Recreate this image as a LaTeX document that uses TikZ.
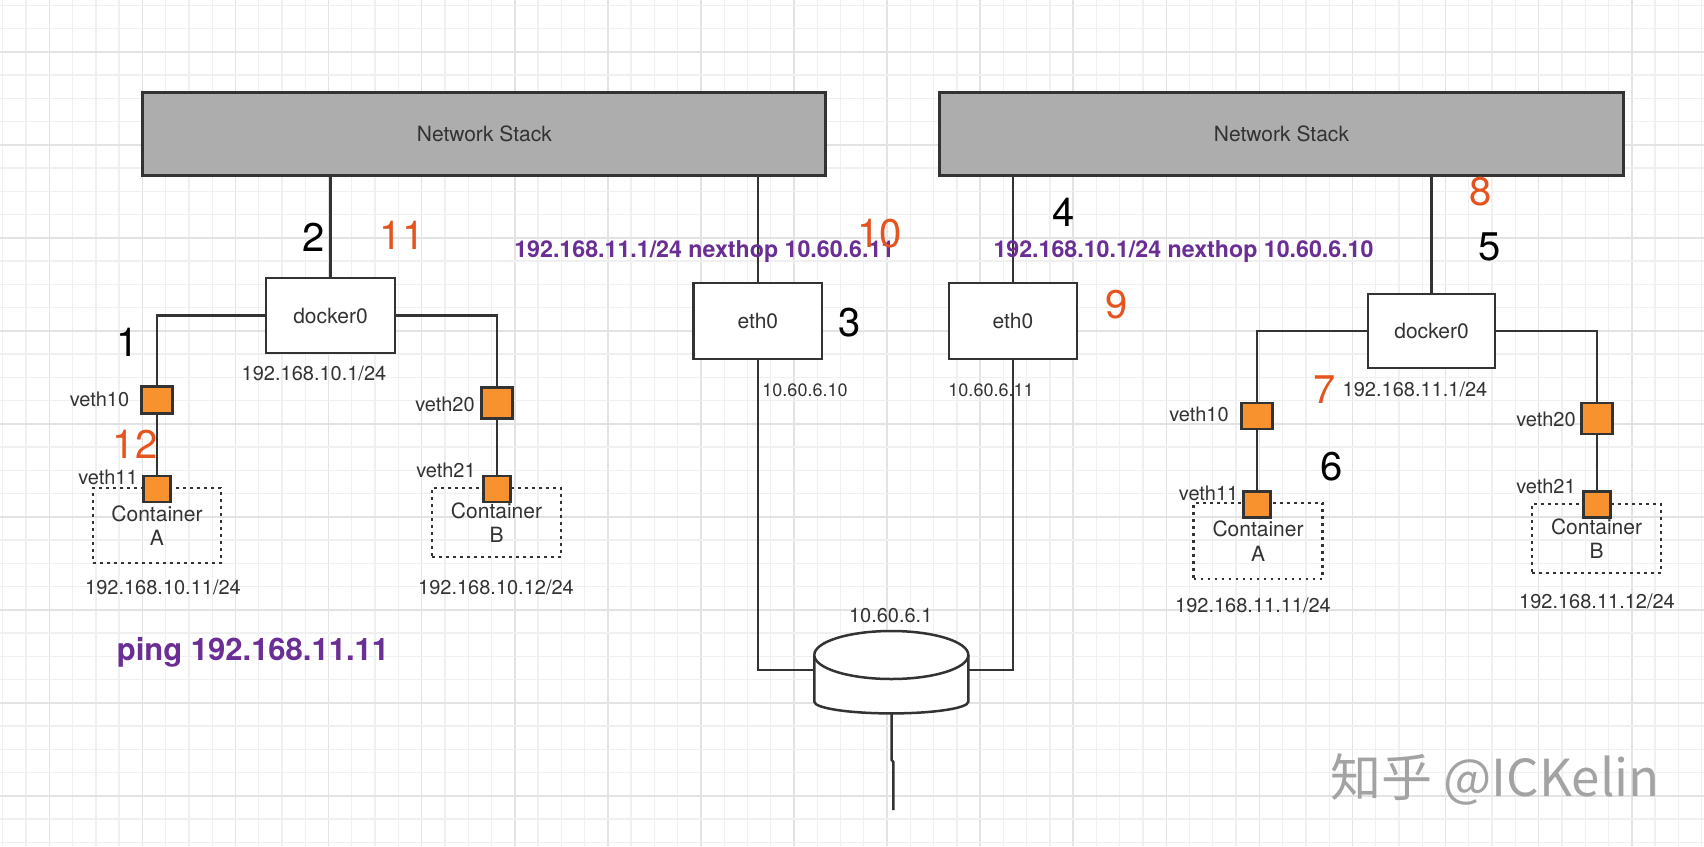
\documentclass[tikz,border=0pt]{standalone}
\usepackage{fontspec}
\setmainfont{TeX Gyre Heros}
\newfontfamily\cjk{Noto Sans CJK SC}
\usetikzlibrary{calc}
\definecolor{txt}{HTML}{333333}
\definecolor{stackfill}{HTML}{ADADAD}
\definecolor{vethfill}{HTML}{F7922F}
\definecolor{numorg}{HTML}{E5541F}
\definecolor{routepurple}{HTML}{6A2E94}
\definecolor{gridminor}{HTML}{F0F0F0}
\definecolor{gridmajor}{HTML}{E3E3E3}
\definecolor{linecol}{HTML}{333333}
\definecolor{wm}{HTML}{A3A3A3}
\tikzset{
  gridmin/.style={draw=gridminor, line width=1.3pt},
  gridmaj/.style={draw=gridmajor, line width=1.6pt},
  stackbox/.style={draw=linecol, fill=stackfill, line width=3pt, inner sep=0pt, text=txt, font=\fontsize{21}{25}\selectfont},
  ifbox/.style={draw=linecol, fill=white, line width=2.6pt, inner sep=0pt, text=txt, font=\fontsize{21}{25}\selectfont},
  vethsq/.style={draw=linecol, fill=vethfill, line width=2.6pt, inner sep=0pt},
  ctbox/.style={draw=linecol, line width=2.6pt, dash pattern=on 2.6pt off 4.4pt, inner sep=0pt, text=txt, align=center, font=\fontsize{21}{24.3}\selectfont},
  conn/.style={draw=linecol, line width=2.5pt},
  lbl/.style={text=txt, inner sep=0pt, anchor=base, font=\fontsize{20}{24}\selectfont},
  ipsmall/.style={text=txt, inner sep=0pt, anchor=base, font=\fontsize{18}{22}\selectfont},
  numblack/.style={text=black, inner sep=0pt, anchor=base, font=\fontsize{40}{48}\selectfont},
  numorange/.style={text=numorg, inner sep=0pt, anchor=base, font=\fontsize{40}{48}\selectfont},
  routetext/.style={text=routepurple, inner sep=0pt, anchor=base, font=\bfseries\fontsize{23.2}{28}\selectfont},
  pingtext/.style={text=routepurple, inner sep=0pt, anchor=base, font=\bfseries\fontsize{31}{37}\selectfont},
}
\begin{document}
\begin{tikzpicture}[x=1pt,y=-1pt]
\useasboundingbox (0,0) rectangle (1704,846);
\fill[white] (0,0) rectangle (1704,846);
% grid
\foreach \j in {-2,...,71} {
  \pgfmathtruncatemacro{\m}{mod(\j+8,4)}
  \ifnum\m=0
    \draw[gridmaj] ({49.33+23.27*\j},0) -- ({49.33+23.27*\j},846);
  \else
    \draw[gridmin] ({49.33+23.27*\j},0) -- ({49.33+23.27*\j},846);
  \fi
}
\foreach \j in {-2,...,34} {
  \pgfmathtruncatemacro{\m}{mod(\j+8,4)}
  \ifnum\m=0
    \draw[gridmaj] (0,{51.7+23.25*\j}) -- (1704,{51.7+23.25*\j});
  \else
    \draw[gridmin] (0,{51.7+23.25*\j}) -- (1704,{51.7+23.25*\j});
  \fi
}

% network stacks
\node[stackbox, minimum width=683pt, minimum height=83pt] (nsL) at (484.4,134.3) {Network Stack};
\node[stackbox, minimum width=684pt, minimum height=83pt] (nsR) at (1281.5,134.3) {Network Stack};

% interface boxes
\node[ifbox, minimum width=129pt, minimum height=75pt] (dL) at (330.5,315.5) {docker0};
\node[ifbox, minimum width=127pt, minimum height=74pt] (dR) at (1431.5,331) {docker0};
\node[ifbox, minimum width=128.5pt, minimum height=76pt] (eL) at (757.8,321) {eth0};
\node[ifbox, minimum width=128pt, minimum height=76pt] (eR) at (1013,321) {eth0};

% containers
\node[ctbox, minimum width=128pt, minimum height=75pt] (cAL) at (157,525.5) {Container\\A};
\node[ctbox, minimum width=129pt, minimum height=69pt] (cBL) at (496.5,522.5) {Container\\B};
\node[ctbox, minimum width=129pt, minimum height=76pt] (cAR) at (1258,541) {Container\\A};
\node[ctbox, minimum width=129pt, minimum height=69pt] (cBR) at (1596.5,538.5) {Container\\B};

% veth squares
\node[vethsq, minimum width=31pt, minimum height=27pt] (v10L) at (157,400) {};
\node[vethsq, minimum width=27pt, minimum height=26pt] (v11L) at (157,489) {};
\node[vethsq, minimum width=31pt, minimum height=31pt] (v20L) at (497,403) {};
\node[vethsq, minimum width=27pt, minimum height=26pt] (v21L) at (497,489) {};
\node[vethsq, minimum width=31pt, minimum height=26pt] (v10R) at (1257,416) {};
\node[vethsq, minimum width=27pt, minimum height=26pt] (v11R) at (1257,504.5) {};
\node[vethsq, minimum width=31pt, minimum height=31pt] (v20R) at (1597,418.5) {};
\node[vethsq, minimum width=27pt, minimum height=26pt] (v21R) at (1597,504.5) {};

% router
\path[conn, fill=white] (814.3,655) -- (814.3,701.7) arc[start angle=180, end angle=0, x radius=77, y radius=11.7] -- (968.3,655);
\draw[conn, fill=white] (891.3,655) ellipse [x radius=77, y radius=24];
\coordinate (rW) at (814.3,670);
\coordinate (rE) at (968.3,670);
\coordinate (rS) at (891.7,713.4);
\coordinate (tail) at (893.3,810);

% connectors
\draw[conn] (nsL.south -| dL.north) -- (dL.north);
\draw[conn] (nsL.south -| eL.north) -- (eL.north);
\draw[conn] (nsR.south -| eR.north) -- (eR.north);
\draw[conn] (nsR.south -| dR.north) -- (dR.north);
\draw[conn] (dL.west) -| (v10L.north);
\draw[conn] (dL.east) -| (v20L.north);
\draw[conn] (dR.west) -| (v10R.north);
\draw[conn] (dR.east) -| (v20R.north);
\draw[conn] (v10L.south) -- (v11L.north);
\draw[conn] (v20L.south) -- (v21L.north);
\draw[conn] (v10R.south) -- (v11R.north);
\draw[conn] (v20R.south) -- (v21R.north);
\draw[conn] (eL.south) |- (rW);
\draw[conn] (eR.south) |- (rE);
\draw[conn] (rS) -- (891.7,760) -- (893.3,762) -- (tail);

% labels
\node[lbl] (ipdL) at (314,380.7) {192.168.10.1/24};
\node[lbl] (l10L) at (99.5,406.7) {veth10};
\node[lbl] (l11L) at (108,484) {veth11};
\node[lbl] (l20L) at (445,411) {veth20};
\node[lbl] (l21L) at (446,477.7) {veth21};
\node[lbl] (ipAL) at (163,594) {192.168.10.11/24};
\node[lbl] (ipBL) at (496,594) {192.168.10.12/24};
\node[ipsmall] (ipeL) at (805,396.7) {10.60.6.10};
\node[ipsmall] (ipeR) at (991,396.7) {10.60.6.11};
\node[lbl] (iprt) at (890.7,622.7) {10.60.6.1};
\node[lbl] (ipdR) at (1415,396.7) {192.168.11.1/24};
\node[lbl] (l10R) at (1199,421.7) {veth10};
\node[lbl] (l11R) at (1208.6,500) {veth11};
\node[lbl] (l20R) at (1546,426.7) {veth20};
\node[lbl] (l21R) at (1546,493.3) {veth21};
\node[lbl] (ipAR) at (1253,612.7) {192.168.11.11/24};
\node[lbl] (ipBR) at (1597,608.3) {192.168.11.12/24};

\node[routetext] (rtL) at (704.3,257.5) {192.168.11.1/24 nexthop 10.60.6.11};
\node[routetext] (rtR) at (1183.5,257.5) {192.168.10.1/24 nexthop 10.60.6.10};
\node[pingtext] (ping) at (253,660) {ping 192.168.11.11};

% step numbers
\node[numblack] (n1) at (128,356.7) {1};
\node[numblack] (n2) at (314,251.7) {2};
\node[numblack] (n3) at (850,336.7) {3};
\node[numblack] (n4) at (1064,226) {4};
\node[numblack] (n5) at (1490,260) {5};
\node[numblack] (n6) at (1332,480) {6};
\node[numorange] (n7) at (1325,403) {7};
\node[numorange] (n8) at (1481,205) {8};
\node[numorange] (n9) at (1117,318.3) {9};
\node[numorange] (n10) at (879.7,247.3) {10};
\node[numorange] (n11) at (402,249.3) {11};
\node[numorange] (n12) at (135,458.3) {12};

% watermark
\node[text=wm, inner sep=0pt, anchor=base, font=\cjk\fontsize{51}{60}\selectfont] (wmk) at (1495,796) {知乎 @ICKelin};
\end{tikzpicture}
\end{document}
